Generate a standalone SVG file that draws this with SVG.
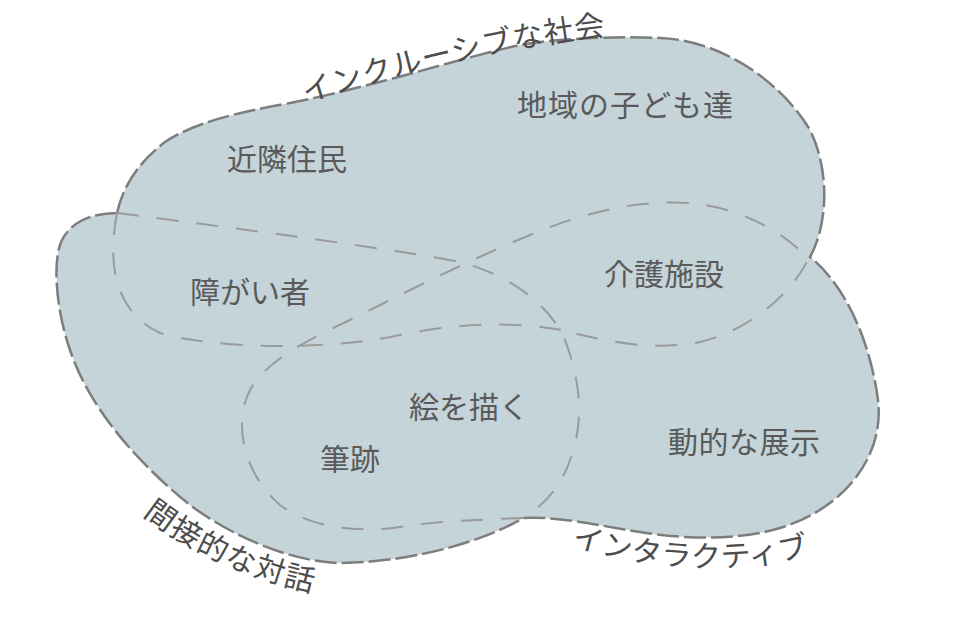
<svg xmlns="http://www.w3.org/2000/svg" xmlns:xlink="http://www.w3.org/1999/xlink" width="954" height="639" viewBox="0 0 954 639">
<style>
.blob{fill:#c5d4d9;stroke:#7d7d7d;stroke-width:2.5;stroke-dasharray:22 5}
.inner{fill:none;stroke:#9a9a9a;stroke-width:2;stroke-dasharray:22 18}
.lbl{font-family:"Noto Sans CJK JP","Noto Sans CJK SC",sans-serif;font-size:30px;fill:#5a5a5a}
.cl{font-family:"Noto Sans CJK JP","Noto Sans CJK SC",sans-serif;font-size:30px;fill:#4d4d4d}
</style>
<defs>
<path id="tp1" d="M302,104 Q480,48 620,34"/>
<path id="tp2" d="M138,511 Q215,575 335,597"/>
<path id="tp3" d="M568,545 Q700,585 818,553"/>
</defs>
<rect width="954" height="639" fill="#ffffff"/>
<g id="society">
<path class="blob" d="M117,213 C122,190 135,165 165,142 C195,122 240,112 290,103 C380,85 460,58 520,45 C560,38 620,36 660,38 C720,40 780,80 810,130 C830,170 828,225 810,257 C845,285 870,340 878,400 C885,460 840,510 780,528 C740,540 690,540 640,532 C600,526 560,516 523,518 C490,538 420,562 340,563 C290,562 230,535 190,505 C140,465 90,410 70,350 C56,310 52,260 62,240 C72,220 95,213 117,213 Z"/>
</g>
<g id="connectors">
<path class="inner" d="M117,213 C250,230 400,250 460,262 C510,275 550,305 565,340 C580,380 585,420 570,460 C560,490 540,508 523,518"/>
<path class="inner" d="M117,213 C108,260 112,310 160,333 C220,350 330,350 400,335 C460,322 520,322 562,330"/>
<path class="inner" d="M523,518 C470,520 430,522 400,527 C360,533 310,528 280,505 C245,475 232,425 250,390 C270,355 320,335 360,315 C420,285 470,260 530,235 C590,210 640,200 690,203 C740,207 790,235 808,260 C790,295 750,330 700,342 C650,352 600,340 562,330"/>
</g>
<g id="label-inclusive"><text class="cl" letter-spacing="1"><textPath xlink:href="#tp1" href="#tp1" startOffset="4">インクルーシブな社会</textPath></text></g>
<g id="label-indirect"><text class="cl" letter-spacing="1.5"><textPath xlink:href="#tp2" href="#tp2" startOffset="6">間接的な対話</textPath></text></g>
<g id="label-interactive"><text class="cl" letter-spacing="0.5"><textPath xlink:href="#tp3" href="#tp3" startOffset="3">インタラクティブ</textPath></text></g>
<g id="node-children"><text class="lbl" x="517" y="116" letter-spacing="1">地域の子ども達</text></g>
<g id="node-neighbors"><text class="lbl" x="227" y="170">近隣住民</text></g>
<g id="node-disabled"><text class="lbl" x="190" y="303">障がい者</text></g>
<g id="node-care"><text class="lbl" x="604" y="285">介護施設</text></g>
<g id="node-draw"><text class="lbl" x="409" y="418">絵を描く</text></g>
<g id="node-brush"><text class="lbl" x="320" y="470">筆跡</text></g>
<g id="node-dynamic"><text class="lbl" x="668" y="453" letter-spacing="0.5">動的な展示</text></g>
</svg>
